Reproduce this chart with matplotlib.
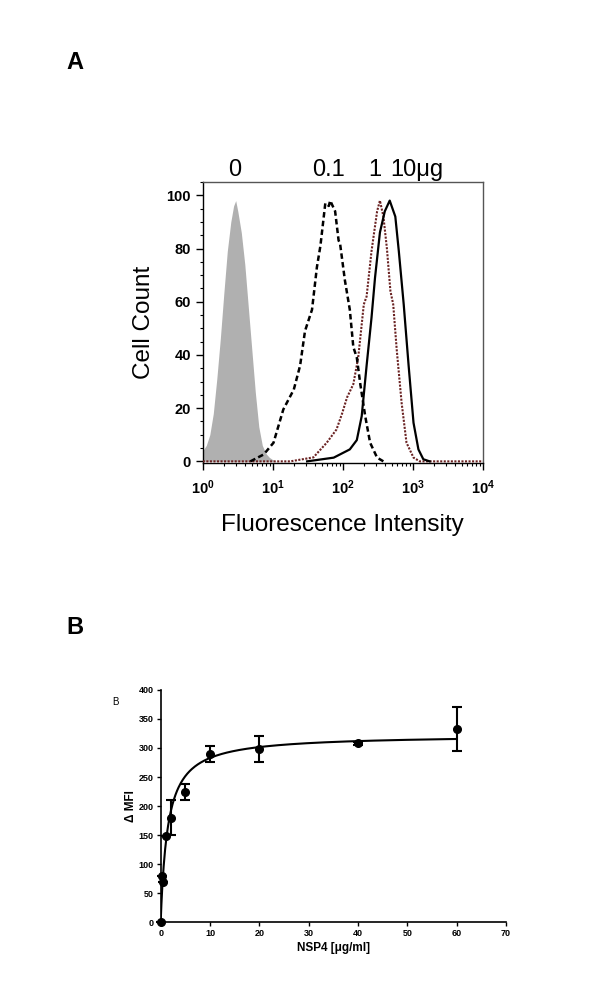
import numpy as np
import matplotlib
matplotlib.use("Agg")
import matplotlib.pyplot as plt
from matplotlib.ticker import FixedLocator, FixedFormatter, LogLocator, NullFormatter, MultipleLocator

plt.rcParams['font.family'] = ['Liberation Sans', 'DejaVu Sans']
plt.rcParams['mathtext.fontset'] = 'custom'
plt.rcParams['mathtext.rm'] = 'Liberation Sans'
plt.rcParams['mathtext.bf'] = 'Liberation Sans:bold'

# ---------------- Panel A data (log10 fluorescence, cell count) ----------------
ctrl_log = [0.00, 0.05, 0.10, 0.15, 0.20, 0.25, 0.30, 0.35, 0.40, 0.44, 0.47,
            0.50, 0.55, 0.60, 0.65, 0.70, 0.75, 0.80, 0.85, 0.90, 0.95, 1.00, 1.05]
ctrl_cnt = [4, 6, 10, 18, 31, 46, 63, 79, 90, 96, 98,
            94, 86, 74, 58, 42, 26, 13, 6, 3, 1.5, 0.6, 0]

d01_log = [0.68, 0.87, 1.01, 1.15, 1.30, 1.39, 1.46, 1.56, 1.63, 1.68, 1.75, 1.80,
           1.82, 1.89, 1.94, 1.96, 2.03, 2.10, 2.15, 2.20, 2.25, 2.32, 2.39, 2.49, 2.58]
d01_cnt = [0, 2.6, 7, 19.5, 27, 36, 49, 57, 73, 81, 97, 96,
           98, 94, 83, 82, 68, 57, 43, 39, 29, 17, 7, 1.4, 0]

d1_log = [0.00, 1.25, 1.58, 1.77, 1.91, 1.99, 2.06, 2.15, 2.22, 2.30, 2.34, 2.41,
          2.49, 2.53, 2.58, 2.63, 2.68, 2.72, 2.77, 2.84, 2.91, 3.01, 3.10, 4.00]
d1_cnt = [0, 0, 1.5, 7, 12, 18, 24, 29, 39, 59, 62, 79,
          94, 98, 92, 80, 64, 59, 42, 22, 7, 1.4, 0, 0]

d10_log = [1.49, 1.87, 2.10, 2.20, 2.27, 2.34, 2.41, 2.46, 2.53, 2.60, 2.67,
           2.75, 2.80, 2.87, 2.94, 3.01, 3.08, 3.15, 3.24]
d10_cnt = [0, 1.4, 4.5, 8, 17, 36, 54, 69, 86, 94, 98,
           92, 79, 59, 36, 14.5, 4.5, 0.8, 0]

dose_labels = ["0", "0.1", "1", "10\u03bcg"]
dose_label_x = [2.9, 62, 289, 1150]   # fluorescence position of each label

# ---------------- Panel B data ----------------
nsp4 = [0, 0.25, 0.5, 1, 2, 5, 10, 20, 40, 60]
dmfi = [0, 79, 69, 148, 180, 224, 289, 298, 308, 333]
err_lo = [0, 0, 0, 0, 30, 14, 14, 23, 2, 38]
err_hi = [0, 0, 0, 0, 30, 14, 14, 23, 2, 38]
BMAX = 323.0
KD = 1.42

fig = plt.figure(figsize=(6.0, 10.01), dpi=100)

# ---------------- Panel A ----------------
axA = fig.add_axes([0.338, 0.5375, 0.4667, 0.2807])
x_ctrl = 10 ** np.array(ctrl_log)
axA.fill_between(x_ctrl, ctrl_cnt, 0, color='#b0b0b0', lw=0, zorder=2)
axA.plot(10 ** np.array(d1_log), d1_cnt, color='#6a2222', lw=1.5,
         linestyle=(0, (1, 0.7)), zorder=3)
axA.plot(10 ** np.array(d10_log), d10_cnt, color='black', lw=1.6, zorder=4)
axA.plot(10 ** np.array(d01_log), d01_cnt, color='black', lw=1.8,
         linestyle=(0, (2.2, 1.3)), zorder=5)

axA.set_xscale('log')
axA.set_xlim(1, 1e4)
axA.set_ylim(-0.6, 105)
axA.xaxis.set_major_locator(FixedLocator([1, 10, 100, 1000, 10000]))
axA.xaxis.set_major_formatter(FixedFormatter([r'$\mathbf{10^{0}}$', r'$\mathbf{10^{1}}$',
                                              r'$\mathbf{10^{2}}$', r'$\mathbf{10^{3}}$',
                                              r'$\mathbf{10^{4}}$']))
axA.xaxis.set_minor_locator(LogLocator(base=10, subs=np.arange(2, 10), numticks=20))
axA.xaxis.set_minor_formatter(NullFormatter())
axA.yaxis.set_major_locator(MultipleLocator(20))
axA.yaxis.set_minor_locator(MultipleLocator(5))
axA.tick_params(axis='both', which='major', direction='out', length=5, width=1,
                labelsize=10.5, top=False, right=False)
axA.tick_params(axis='both', which='minor', direction='out', length=2.5, width=0.8,
                top=False, right=False)
for lab in axA.get_yticklabels():
    lab.set_fontweight('bold')
axA.tick_params(axis='x', which='major', pad=6)
for side in ['top', 'right']:
    axA.spines[side].set_color('#555555')
for sp in axA.spines.values():
    sp.set_linewidth(1.0)
axA.set_ylabel('Cell Count', fontsize=17.5, labelpad=8)
axA.set_xlabel('Fluorescence Intensity', fontsize=17.5, labelpad=12)
for lab, xv in zip(dose_labels, dose_label_x):
    axA.text(xv, 1.005, lab, transform=axA.get_xaxis_transform(), ha='center',
             va='bottom', fontsize=17)
fig.text(0.125, 0.938, 'A', fontsize=17, fontweight='bold', ha='center', va='center')

# ---------------- Panel B ----------------
axB = fig.add_axes([0.2678, 0.0789, 0.5755, 0.2318])
xfit = np.linspace(0, max(nsp4), 400)
axB.plot(xfit, BMAX * xfit / (KD + xfit), color='black', lw=1.5, zorder=3)
axB.errorbar(nsp4, dmfi, yerr=[err_lo, err_hi], fmt='o', color='black',
             markersize=5.5, elinewidth=1.5, capsize=3.5, capthick=1.5,
             clip_on=False, zorder=4)
axB.set_xlim(0, 70)
axB.set_ylim(0, 400)
axB.xaxis.set_major_locator(MultipleLocator(10))
axB.yaxis.set_major_locator(MultipleLocator(50))
axB.spines['top'].set_visible(False)
axB.spines['right'].set_visible(False)
for sp in axB.spines.values():
    sp.set_linewidth(1.2)
axB.tick_params(axis='both', direction='out', length=3, width=1.0, labelsize=6.5, pad=2)
for lab in axB.get_xticklabels() + axB.get_yticklabels():
    lab.set_fontweight('bold')
axB.set_xlabel('NSP4 [\u03bcg/ml]', fontsize=8.5, fontweight='bold', labelpad=3)
axB.set_ylabel('\u0394 MFI', fontsize=8.5, fontweight='bold', labelpad=1)
fig.text(0.192, 0.299, 'B', fontsize=7, ha='center', va='center')
fig.text(0.125, 0.373, 'B', fontsize=17, fontweight='bold', ha='center', va='center')

fig.savefig('out.png', dpi=100)
